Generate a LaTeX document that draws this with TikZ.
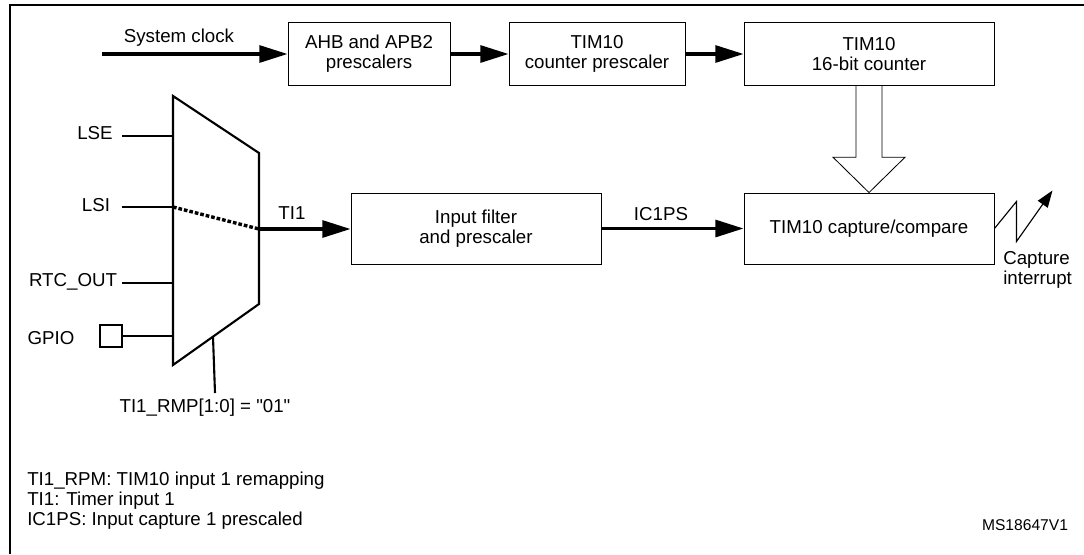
\documentclass[tikz,border=0pt]{standalone}
\usepackage{fontspec}
\setmainfont{Liberation Sans}[Ligatures=TeXOff]
\usetikzlibrary{arrows.meta, calc}

\begin{document}
\begin{tikzpicture}[x=0.025cm, y=-0.025cm,
    every node/.style={font=\fontsize{13.3}{14.2}\selectfont},
    blk/.style={draw, line width=0.6pt, align=center, inner sep=0pt},
    sig/.style={line width=2.3pt, -{Triangle[length=20pt,width=12pt]}},
    wire/.style={line width=1.5pt}]
    \useasboundingbox (0,0) rectangle (1084,554);
    % frame
    \draw[line width=1.5pt] (10,554)--(10,5)--(1084,5);

    % clock chain
    \node[blk, minimum width=4.05cm, minimum height=1.59cm] (ahb) at (369,54) {AHB and APB2\\prescalers};
    \node[blk, minimum width=4.4cm, minimum height=1.59cm] (cntpsc) at (597,54) {TIM10\\counter prescaler};
    \node[blk, minimum width=6.25cm, minimum height=1.59cm] (cnt16) at (869,54) {TIM10\\16-bit counter};
    \coordinate (clkin) at (102,54);
    \node[anchor=base] (clk) at (179,42) {System clock};
    \draw[sig] (clkin) -- (ahb.west);
    \draw[sig] (ahb.east) -- (cntpsc.west);
    \draw[sig] (cntpsc.east) -- (cnt16.west);

    % input path
    \node[blk, minimum width=6.25cm, minimum height=1.775cm] (filt) at (476,228.5) {Input filter\\and prescaler};
    \node[blk, minimum width=6.25cm, minimum height=1.775cm] (capt) at (869,228.5) {TIM10 capture/compare};

    % hollow arrow from counter
    \draw[line width=0.6pt, fill=white] ($(cnt16.south)+(-13,0)$) -- ++(0,71) -- ++(-23,0)
        -- (capt.north) -- ($(cnt16.south)+(36,71)$) -- ++(-23,0) -- ($(cnt16.south)+(13,0)$);

    % remap multiplexer
    \coordinate (muxtl) at (173,96);
    \coordinate (muxtr) at (259,153);
    \coordinate (muxbr) at (259,304);
    \coordinate (muxbl) at (173,365);
    \draw[line width=1.5pt] (muxtl) -- (muxtr) -- (muxbr) -- (muxbl) -- cycle;

    \node[anchor=base] (lse) at (95,139) {LSE};
    \node[anchor=base] (lsi) at (96,211) {LSI};
    \node[anchor=base] (rtc) at (73,286) {RTC\_OUT};
    \node[anchor=base] (gpio) at (51,344) {GPIO};
    \node[draw, line width=1.5pt, minimum size=0.55cm, inner sep=0pt] (gpiopad) at (111,336) {};

    \coordinate (lsestart) at (122,136);
    \coordinate (lsistart) at (122,207);
    \coordinate (rtcstart) at (122,283);
    \coordinate (lsein) at (173,136);
    \coordinate (lsiin) at (173,207);
    \coordinate (rtcin) at (173,283);
    \coordinate (gpioin) at (173,336);
    \coordinate (muxout) at (259,229);
    \draw[wire] (lsestart) -- (lsein);
    \draw[wire] (lsistart) -- (lsiin);
    \draw[wire] (rtcstart) -- (rtcin);
    \draw[wire] (gpiopad.east) -- (gpioin);
    \draw[line width=2.4pt, dash pattern=on 2.6pt off 1.4pt] (lsiin) -- (muxout);

    % select line
    \coordinate (sel) at ($(muxbl)!0.465!(muxbr)$);
    \coordinate (selend) at (215,393);
    \draw[wire] (sel) -- (selend);
    \node[anchor=base] (rmp) at (205,412) {TI1\_RMP[1:0] = "01"};

    % signals
    \draw[sig] (muxout) -- (filt.west |- muxout);
    \node[anchor=base] (ti1) at (292,219) {TI1};
    \draw[sig] (filt.east) -- (capt.west);
    \node[anchor=base] (ic1ps) at (661,220) {IC1PS};

    % interrupt
    \draw[line width=0.8pt, -{Triangle[length=12pt,width=8.5pt]}] (capt.east) -- ++(22,-27) -- ++(0,40) -- ++(36,-51);
    \node[anchor=north west, align=left, inner sep=0pt] (irq) at (1003,251) {Capture\\interrupt};

    % legend
    \node[anchor=base west, inner sep=0pt] (leg1) at (27,485) {TI1\_RPM: TIM10 input 1 remapping};
    \node[anchor=base west, inner sep=0pt] (leg2) at (27,505) {TI1: Timer input 1};
    \node[anchor=base west, inner sep=0pt] (leg3) at (27,525) {IC1PS: Input capture 1 prescaled};
    \node[anchor=base, font=\fontsize{11.1}{13}\selectfont] (ref) at (1025,530) {MS18647V1};
\end{tikzpicture}
\end{document}
